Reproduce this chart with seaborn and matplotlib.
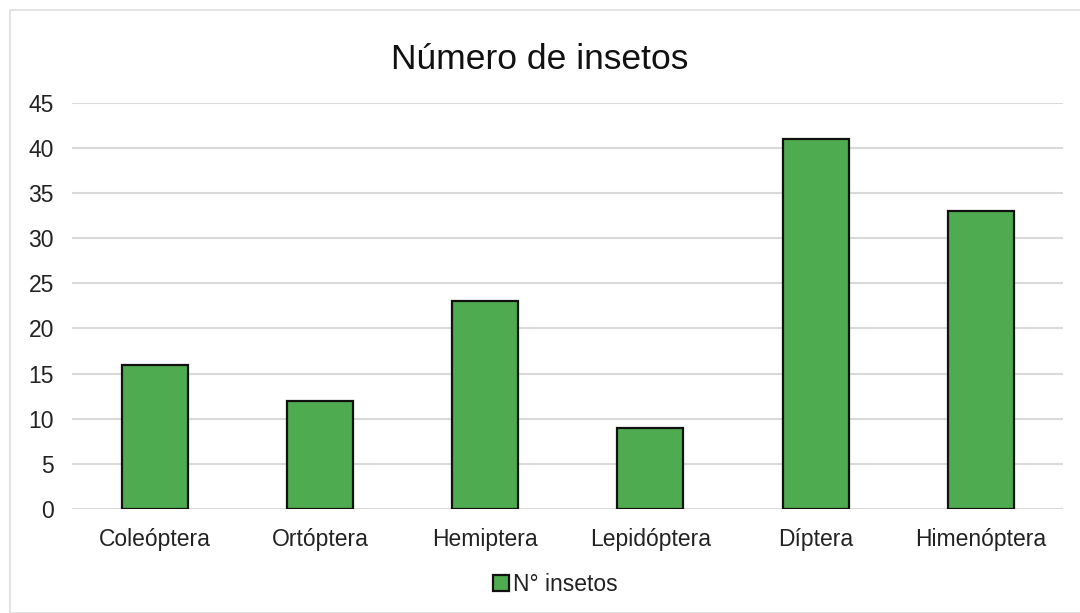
import matplotlib
matplotlib.use("Agg")
import matplotlib.pyplot as plt
import seaborn as sns
import pandas as pd
from matplotlib.patches import Rectangle

categories = ["Coleóptera", "Ortóptera", "Hemiptera", "Lepidóptera", "Díptera", "Himenóptera"]
values = [16, 12, 23, 9, 41, 33]
series_name = "N° insetos"
title = "Número de insetos"
yticks = [0, 5, 10, 15, 20, 25, 30, 35, 40, 45]

df = pd.DataFrame({"cat": categories, "val": values, "serie": [series_name] * len(categories)})

sns.set_theme(style="white")
plt.rcParams["font.family"] = ["Liberation Sans", "DejaVu Sans"]

fig = plt.figure(figsize=(10.8, 6.13), dpi=100)
ax = fig.add_axes([0.0667, 0.170, 0.918, 0.662])

green = "#4FAB4F"
sns.barplot(data=df, x="cat", y="val", hue="serie", palette=[green], width=0.4,
            saturation=1, edgecolor="#111111", linewidth=1.6, ax=ax, legend=False, zorder=3)

ax.set_ylim(0, 45)
ax.set_yticks(yticks)
ax.set_xlim(-0.5, len(categories) - 0.5)
ax.yaxis.grid(True, color="#D9D9D9", linewidth=1.5, zorder=0)
ax.set_axisbelow(True)
for s in ax.spines.values():
    s.set_visible(False)
ax.set_xlabel("")
ax.set_ylabel("")
ax.tick_params(axis="both", length=0, labelsize=16.5, colors="#222222")
ax.tick_params(axis="x", pad=14)
ax.tick_params(axis="y", pad=13)

fig.text(0.5, 0.903, title, ha="center", va="center", fontsize=25.5, color="#111111")

handle = Rectangle((0, 0), 1, 1, facecolor=green, edgecolor="#111111", linewidth=1.6)
fig.legend([handle], [series_name], loc="center", bbox_to_anchor=(0.514, 0.046),
           frameon=False, fontsize=16.5, handlelength=0.7, handleheight=0.7,
           handletextpad=0.15, labelcolor="#222222")

fig.patches.append(Rectangle((10 / 1080, 0.0), 1.2, 1 - 10 / 613, transform=fig.transFigure,
                             fill=False, edgecolor="#DDDDDD", linewidth=1.2))

fig.savefig("out.png", dpi=100)
